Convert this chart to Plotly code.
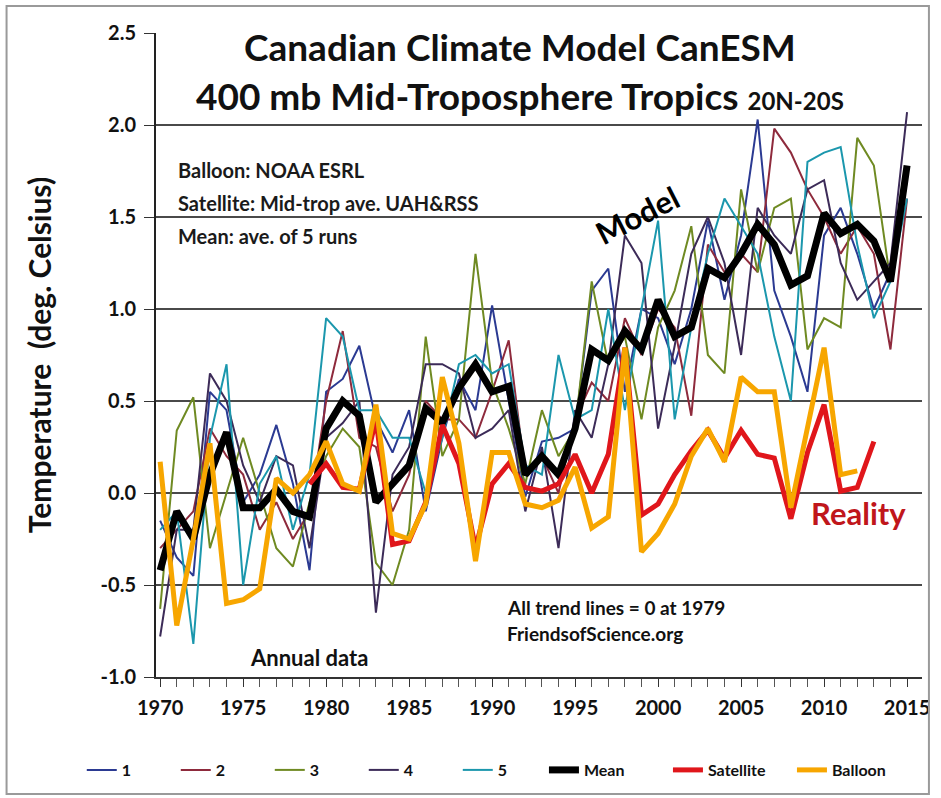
import plotly.graph_objects as go

years = list(range(1970, 2016))

run1 = [-0.15, -0.35, -0.45, 0.55, 0.45, -0.05, 0.10, 0.37, 0.05, -0.42,
        0.55, 0.62, 0.80, 0.40, 0.22, 0.45, -0.10, 0.30, 0.62, 0.45,
        1.02, 0.50, -0.02, 0.28, 0.30, 0.35, 1.10, 1.22, 0.55, 1.00,
        0.95, 0.70, 1.00, 1.48, 1.05, 1.40, 2.03, 1.10, 0.85, 0.55,
        1.40, 1.55, 1.30, 1.00, 1.20, 1.75]
run2 = [-0.30, -0.20, -0.10, 0.35, 0.20, 0.10, -0.20, -0.05, -0.25, -0.10,
        0.50, 0.88, 0.30, 0.25, -0.10, 0.10, 0.50, 0.40, 0.40, 0.30,
        0.55, 0.83, 0.10, 0.20, 0.00, 0.40, 0.60, 0.50, 0.95, 0.75,
        1.00, 0.90, 0.42, 1.35, 1.20, 1.30, 1.20, 1.98, 1.85, 1.65,
        1.50, 1.30, 1.45, 1.30, 0.78, 1.60]
run3 = [-0.63, 0.34, 0.52, -0.30, 0.00, 0.30, 0.00, -0.30, -0.40, -0.05,
        0.20, 0.35, 0.25, -0.38, -0.50, -0.20, 0.85, 0.20, 0.40, 1.30,
        0.60, 0.35, 0.05, 0.45, 0.20, 0.35, 1.15, 0.70, 0.85, 0.40,
        0.90, 1.10, 1.45, 0.75, 0.65, 1.65, 1.20, 1.55, 1.60, 0.78,
        0.95, 0.90, 1.93, 1.78, 1.15, 1.70]
run4 = [-0.78, -0.20, -0.20, 0.65, 0.50, 0.15, -0.05, 0.20, 0.15, -0.30,
        0.30, 0.38, 0.50, -0.65, 0.10, 0.25, 0.70, 0.70, 0.65, 0.30,
        0.35, 0.45, -0.10, 0.25, -0.30, 0.45, 0.30, 0.70, 1.40, 1.25,
        0.35, 0.80, 1.30, 1.50, 1.25, 0.75, 1.55, 1.40, 1.30, 1.65,
        1.70, 1.25, 1.05, 1.15, 1.25, 2.07]
run5 = [-0.20, -0.10, -0.82, 0.30, 0.70, -0.50, 0.05, 0.20, -0.20, 0.10,
        0.95, 0.85, 0.45, 0.45, 0.30, 0.30, 0.00, 0.30, 0.70, 0.75,
        0.65, 0.70, 0.15, 0.10, 0.75, 0.40, 0.45, 1.00, 0.45, 1.00,
        1.48, 0.40, 0.90, 1.30, 1.60, 1.45, 1.30, 0.85, 0.50, 1.80,
        1.85, 1.88, 1.35, 0.95, 1.15, 1.60]
mean = [-0.42, -0.10, -0.25, 0.10, 0.33, -0.08, -0.08, 0.02, -0.10, -0.13,
        0.35, 0.50, 0.42, -0.05, 0.05, 0.15, 0.46, 0.38, 0.57, 0.70,
        0.55, 0.58, 0.10, 0.20, 0.10, 0.35, 0.78, 0.72, 0.88, 0.78,
        1.05, 0.85, 0.90, 1.22, 1.17, 1.30, 1.46, 1.35, 1.13, 1.18,
        1.52, 1.41, 1.46, 1.37, 1.15, 1.78]

sat_years = list(range(1979, 2014))
satellite = [0.05, 0.16, 0.03, 0.02, 0.40, -0.28, -0.26, -0.05, 0.37, 0.16,
             -0.30, 0.05, 0.16, 0.03, 0.01, 0.05, 0.21, 0.00, 0.21, 0.79,
             -0.12, -0.06, 0.10, 0.23, 0.34, 0.19, 0.34, 0.21, 0.19, -0.14,
             0.22, 0.48, 0.01, 0.03, 0.28]

bal_years = list(range(1970, 2013))
balloon = [0.17, -0.72, -0.25, 0.27, -0.60, -0.58, -0.52, 0.08, 0.00, 0.10,
           0.28, 0.05, 0.01, 0.48, -0.22, -0.25, -0.06, 0.63, 0.27, -0.37,
           0.22, 0.22, -0.06, -0.08, -0.04, 0.14, -0.19, -0.13, 0.79, -0.32,
           -0.22, -0.06, 0.20, 0.35, 0.17, 0.63, 0.55, 0.55, -0.08, 0.35,
           0.79, 0.10, 0.12]

y_ticks = [-1.0, -0.5, 0.0, 0.5, 1.0, 1.5, 2.0, 2.5]
x_ticks = list(range(1970, 2016, 5))

FONT = "Lato"
INK = "#111111"

fig = go.Figure()
thin = [("1", run1, "#2b3a92"), ("2", run2, "#8e2a3c"), ("3", run3, "#6f8a22"),
        ("4", run4, "#3c2b58"), ("5", run5, "#1b97ad")]
for name, vals, col in thin:
    fig.add_trace(go.Scatter(x=years, y=vals, mode="lines", name=name, legend="legend",
                             line=dict(color=col, width=2)))
fig.add_trace(go.Scatter(x=years, y=mean, mode="lines", name="Mean", legend="legend2",
                         line=dict(color="#000000", width=7)))
fig.add_trace(go.Scatter(x=sat_years, y=satellite, mode="lines", name="Satellite",
                         legend="legend2", line=dict(color="#e0161b", width=5)))
fig.add_trace(go.Scatter(x=bal_years, y=balloon, mode="lines", name="Balloon",
                         legend="legend2", line=dict(color="#f7a600", width=5)))

W, H = 941, 798
L, R, T, B = 156, 11, 33, 121
pw = W - L - R
ph = H - T - B


def px_x(p):
    return (p - L) / pw


def px_y(p):
    return (H - B - p) / ph


legend_font = dict(size=16, family=FONT, color=INK, weight="bold")

fig.update_layout(
    width=W, height=H,
    margin=dict(l=L, r=R, t=T, b=B),
    paper_bgcolor="white", plot_bgcolor="white",
    font=dict(family=FONT, color=INK),
    showlegend=True,
    legend=dict(orientation="h", x=px_x(81), xanchor="left",
                y=px_y(770), yanchor="middle", font=legend_font,
                entrywidth=49, entrywidthmode="pixels",
                itemwidth=30, bgcolor="rgba(0,0,0,0)"),
    legend2=dict(orientation="h", x=px_x(548), xanchor="left",
                 y=px_y(770), yanchor="middle", font=legend_font,
                 entrywidth=79, entrywidthmode="pixels",
                 itemwidth=30, bgcolor="rgba(0,0,0,0)"),
    xaxis=dict(range=[1969.75, 2015.9], tickvals=x_ticks,
               ticktext=[f"<b>{v}</b>" for v in x_ticks],
               showgrid=False, zeroline=False,
               showline=True, linecolor="#333333", linewidth=1.5,
               ticks="outside", ticklen=8, tickcolor="#333333",
               minor=dict(dtick=1, tick0=1970, ticks="outside", ticklen=8,
                          tickcolor="#555555", showgrid=False),
               tickfont=dict(size=20, family=FONT, color=INK),
               ticklabelstandoff=4),
    yaxis=dict(range=[-1.0, 2.5], tickvals=y_ticks,
               ticktext=[f"<b>{v:.1f}</b>" for v in y_ticks],
               showgrid=True, gridcolor="#4a4a4a", gridwidth=1.5,
               zeroline=False, showline=True, linecolor="#222222", linewidth=2,
               ticks="outside", ticklen=10, tickcolor="#333333",
               tickfont=dict(size=20, family=FONT, color=INK),
               ticklabelstandoff=4,
               title=dict(text="<b>Temperature  (deg. Celsius)</b>",
                          font=dict(size=30, family=FONT, color=INK),
                          standoff=40)),
)

# white boxes hiding the gridlines behind the title and the note block
fig.add_shape(type="rect", xref="paper", yref="paper",
              x0=px_x(185), x1=px_x(898), y0=px_y(18), y1=px_y(118),
              fillcolor="white", line=dict(width=0), layer="between")
fig.add_shape(type="rect", xref="paper", yref="paper",
              x0=px_x(160), x1=px_x(532), y0=px_y(150), y1=px_y(250),
              fillcolor="white", line=dict(width=0), layer="between")
# outer frame
fig.add_shape(type="rect", xref="paper", yref="paper",
              x0=px_x(5), x1=px_x(937), y0=px_y(794), y1=px_y(6),
              fillcolor="rgba(0,0,0,0)", line=dict(color="#9a9a9a", width=2))


def note(text, x, y, size, color=INK, xanchor="center", angle=0):
    fig.add_annotation(text=text, xref="paper", yref="paper",
                       x=px_x(x), y=px_y(y), xanchor=xanchor, yanchor="middle",
                       showarrow=False, textangle=angle,
                       font=dict(size=size, family=FONT, color=color))


# title
note("<b>Canadian Climate Model CanESM</b>", 524, 46, 37)
note("<b>400 mb Mid-Troposphere Tropics <span style='font-size:24px'>20N-20S</span></b>",
     524, 95, 37)

notes = ["Balloon: NOAA ESRL", "Satellite: Mid-trop ave. UAH&RSS", "Mean: ave. of 5 runs"]
for i, t in enumerate(notes):
    note(f"<b>{t}</b>", 176, 170 + 33 * i, 20, color="#1a1a1a", xanchor="left")

note("<b>Model</b>", 642, 215, 31, color="#000000", angle=-27)
note("<b>Reality</b>", 866, 513, 31, color="#c0161b")
note("<b>All trend lines = 0 at 1979</b>", 509, 607, 19, xanchor="left")
note("<b>FriendsofScience.org</b>", 509, 633, 19, xanchor="left")
note("<b>Annual data</b>", 249, 657, 22, xanchor="left")

fig.write_html("out.html", config={"displayModeBar": False},
               post_script="document.body.style.margin='0px';")
